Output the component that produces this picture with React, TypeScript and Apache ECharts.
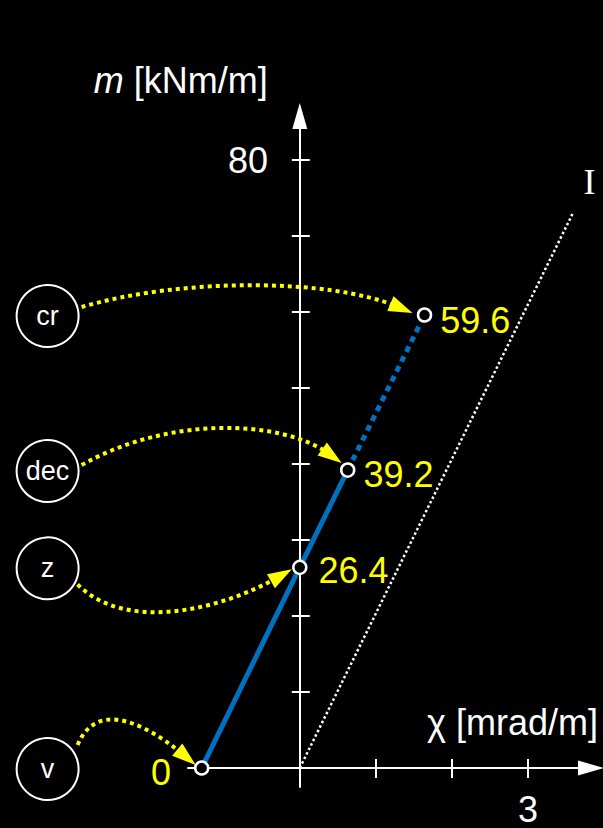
import React, { useEffect, useRef } from 'react';
import * as echarts from 'echarts';

// ---- data ----
const stageNames = ['v', 'z', 'dec', 'cr'];
const chiPoints = [-1.29, 0, 0.63, 1.64]; // χ [mrad/m]
const mPoints = [0, 26.4, 39.2, 59.6]; // m [kNm/m]
const calloutChi = -3.316; // where the stage circles sit (left of the chart)
const stateIChi = [0, 3.6];
const stateIM = [0, 73.2];
const xTickValues = [1, 2, 3];
const xLabelValues = [3];
const yTickValues = [10, 20, 30, 40, 50, 60, 70, 80];
const yLabelValues = [80];

// ---- styling (pixel offsets for the callout arrows) ----
const calloutShapes = [
  { s: [30, -23], t: [-6, -3], c1: [22, -53], c2: [-36, -30] },
  { s: [30, 17], t: [-8, 2], c1: [47, 48], c2: [-72, 41] },
  { s: [34, -5], t: [-6, -7], c1: [88, -50], c2: [-60, -43] },
  { s: [34, -8], t: [-12, -2], c1: [98, -29], c2: [-83, -35] },
];
const labelPlacements = [
  { position: 'left', distance: 23, offset: [0, 4] },
  { position: 'right', distance: 11, offset: [0, 3] },
  { position: 'right', distance: 8, offset: [0, 4] },
  { position: 'right', distance: 8, offset: [0, 5] },
];

const FONT = '"Liberation Sans", Arial, sans-serif';
const BLUE = '#0070C0';
const YELLOW = '#FFFF00';
const WHITE = '#FFFFFF';

export default function App() {
  const ref = useRef<HTMLDivElement>(null);

  useEffect(() => {
    if (!ref.current) return;
    const chart = echarts.init(ref.current, undefined, { renderer: 'svg' });

    const solidData = [0, 1, 2].map((i) => [chiPoints[i], mPoints[i]]);
    const dottedData = [2, 3].map((i) => [chiPoints[i], mPoints[i]]);
    const stateIData = stateIChi.map((c, i) => [c, stateIM[i]]);
    const markerData = chiPoints.map((c, i) => ({
      value: [c, mPoints[i]],
      label: {
        position: labelPlacements[i].position,
        distance: labelPlacements[i].distance,
        offset: labelPlacements[i].offset,
      },
    }));
    const calloutData = mPoints.map((m, i) => [calloutChi, m, chiPoints[i]]);

    const lineStyle = { color: WHITE, width: 2 };

    const option: any = {
      animation: false,
      backgroundColor: '#000000',
      textStyle: { fontFamily: FONT },
      grid: { left: 188, right: 12, top: 116, bottom: 41, containLabel: false, outerBoundsMode: 'none' },
      xAxis: [
        {
          type: 'value',
          position: 'bottom',
          min: -1.47,
          max: 3.829,
          axisLine: {
            onZero: true,
            onZeroAxisIndex: 0,
            symbol: ['none', 'triangle'],
            symbolSize: [15, 26],
            lineStyle,
          },
          axisTick: { show: true, customValues: xTickValues, length: 10, lineStyle },
          axisLabel: {
            customValues: xLabelValues,
            color: WHITE,
            fontSize: 36,
            lineHeight: 28,
            fontFamily: FONT,
            margin: 8,
          },
          splitLine: { show: false },
          name: 'χ [mrad/m]',
          nameLocation: 'end',
          nameGap: 7,
          nameMoveOverlap: false,
          nameTextStyle: {
            color: WHITE,
            fontSize: 36,
            fontFamily: FONT,
            align: 'right',
            verticalAlign: 'bottom',
            padding: [0, 0, 28, 0],
          },
        },
        {
          type: 'value',
          position: 'bottom',
          min: -1.47,
          max: 3.829,
          axisLine: { show: false, onZero: true, onZeroAxisIndex: 0 },
          axisTick: { show: true, inside: true, customValues: xTickValues, length: 9, lineStyle },
          axisLabel: { show: false },
          splitLine: { show: false },
        },
      ],
      yAxis: [
        {
          type: 'value',
          position: 'left',
          min: -2.5,
          max: 85.79,
          axisLine: {
            onZero: true,
            onZeroAxisIndex: 0,
            symbol: ['none', 'triangle'],
            symbolSize: [15, 26],
            lineStyle,
          },
          axisTick: { show: true, customValues: yTickValues, length: 8, lineStyle },
          axisLabel: { customValues: yLabelValues, color: WHITE, fontSize: 36, fontFamily: FONT, margin: -80 },
          splitLine: { show: false },
          name: '{i|m} [kNm/m]',
          nameLocation: 'end',
          nameGap: 36,
          nameMoveOverlap: false,
          nameTextStyle: {
            color: WHITE,
            fontSize: 36,
            fontFamily: FONT,
            align: 'right',
            verticalAlign: 'middle',
            padding: [0, 32, 0, 0],
            rich: {
              i: { fontStyle: 'italic', fontSize: 36, color: WHITE, fontFamily: FONT },
            },
          },
        },
        {
          type: 'value',
          position: 'left',
          min: -2.5,
          max: 85.79,
          axisLine: { show: false, onZero: true, onZeroAxisIndex: 0 },
          axisTick: { show: true, inside: true, customValues: yTickValues, length: 10, lineStyle },
          axisLabel: { show: false },
          splitLine: { show: false },
        },
      ],
      series: [
        {
          type: 'line',
          name: 'I',
          data: stateIData,
          showSymbol: false,
          symbol: 'none',
          z: 2,
          lineStyle: { color: WHITE, width: 2.5, type: [2.5, 2.5] },
          endLabel: {
            show: true,
            formatter: 'I',
            color: WHITE,
            fontSize: 36,
            fontFamily: '"Liberation Serif", "DejaVu Serif", serif',
            offset: [2, -30],
          },
        },
        {
          type: 'line',
          data: solidData,
          symbol: 'none',
          z: 3,
          lineStyle: { color: BLUE, width: 5 },
        },
        {
          type: 'line',
          data: dottedData,
          symbol: 'none',
          z: 3,
          lineStyle: { color: BLUE, width: 5, type: [6, 5] },
        },
        {
          type: 'custom',
          clip: false,
          z: 4,
          data: calloutData,
          renderItem: (params: any, api: any) => {
            const i = params.dataIndex;
            const g = calloutShapes[i];
            const c = api.coord([api.value(0), api.value(1)]);
            const p = api.coord([api.value(2), api.value(1)]);
            const start = [c[0] + g.s[0], c[1] + g.s[1]];
            const tip = [p[0] + g.t[0], p[1] + g.t[1]];
            const cp1 = [start[0] + g.c1[0], start[1] + g.c1[1]];
            const cp2 = [tip[0] + g.c2[0], tip[1] + g.c2[1]];
            const dx = tip[0] - cp2[0];
            const dy = tip[1] - cp2[1];
            const len = Math.hypot(dx, dy);
            const ux = dx / len;
            const uy = dy / len;
            const L = 24;
            const W = 8;
            const base = [tip[0] - ux * L, tip[1] - uy * L];
            const end = [tip[0] - ux * L * 0.7, tip[1] - uy * L * 0.7];
            return {
              type: 'group',
              children: [
                {
                  type: 'bezierCurve',
                  shape: {
                    x1: start[0], y1: start[1],
                    cpx1: cp1[0], cpy1: cp1[1],
                    cpx2: cp2[0], cpy2: cp2[1],
                    x2: end[0], y2: end[1],
                  },
                  style: { fill: 'none', stroke: YELLOW, lineWidth: 4, lineDash: [4, 4] },
                },
                {
                  type: 'polygon',
                  shape: {
                    points: [
                      tip,
                      [base[0] - uy * W, base[1] + ux * W],
                      [base[0] + uy * W, base[1] - ux * W],
                    ],
                  },
                  style: { fill: YELLOW, stroke: 'none' },
                },
                {
                  type: 'circle',
                  shape: { cx: c[0], cy: c[1] + 1, r: 31 },
                  style: { fill: '#000', stroke: WHITE, lineWidth: 2 },
                },
                {
                  type: 'text',
                  style: {
                    x: c[0],
                    y: c[1] + 1,
                    text: stageNames[i],
                    fill: WHITE,
                    fontSize: 27,
                    fontFamily: FONT,
                    align: 'center',
                    verticalAlign: 'middle',
                  },
                },
              ],
            };
          },
        },
        {
          type: 'scatter',
          data: markerData,
          symbol: 'circle',
          symbolSize: 13,
          z: 6,
          itemStyle: { color: '#000000', borderColor: WHITE, borderWidth: 2.5, opacity: 1 },
          label: {
            show: true,
            color: YELLOW,
            fontSize: 36,
            fontFamily: FONT,
            formatter: (p: any) => String(p.value[1]),
          },
        },
      ],
    };

    chart.setOption(option);
    return () => chart.dispose();
  }, []);

  return (
    <div
      ref={ref}
      style={{ position: 'fixed', left: 0, top: 0, width: 603, height: 828, background: '#000' }}
    />
  );
}
